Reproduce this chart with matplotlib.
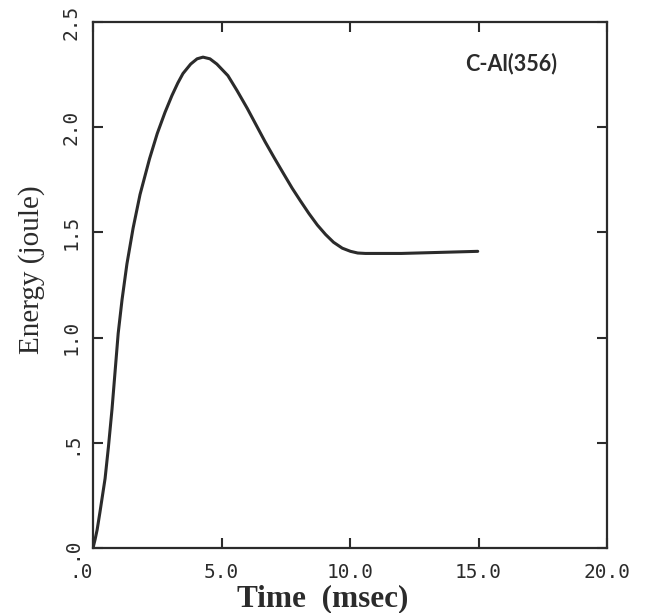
import numpy as np
from matplotlib import pyplot as plt

# energy vs time
time_ms = [0.0, 0.08, 0.16, 0.27, 0.47, 0.60, 0.74, 0.86, 0.98, 1.13, 1.32, 1.56,
           1.83, 2.20, 2.50, 2.80, 3.07, 3.30, 3.50, 3.80, 4.05, 4.28, 4.55, 4.82,
           5.25, 5.60, 6.00, 6.35, 6.70, 7.05, 7.41, 7.75, 8.07, 8.40, 8.73, 9.05,
           9.36, 9.70, 10.02, 10.30, 10.60, 11.0, 12.0, 13.5, 14.97]
energy_j = [0.0, 0.04, 0.086, 0.17, 0.33, 0.48, 0.66, 0.84, 1.02, 1.18, 1.35, 1.52,
            1.68, 1.85, 1.97, 2.07, 2.15, 2.21, 2.255, 2.30, 2.325, 2.333, 2.325, 2.30,
            2.245, 2.175, 2.09, 2.01, 1.93, 1.855, 1.78, 1.71, 1.65, 1.59, 1.535, 1.49,
            1.453, 1.425, 1.41, 1.402, 1.40, 1.40, 1.40, 1.405, 1.41]

xticks = [0.0, 5.0, 10.0, 15.0, 20.0]
xtick_labels = [".0", "5.0", "10.0", "15.0", "20.0"]
yticks = [0.0, 0.5, 1.0, 1.5, 2.0, 2.5]
ytick_labels = [".0", ".5", "1.0", "1.5", "2.0", "2.5"]

ink = "#2b2b2b"

fig = plt.figure(figsize=(6.46, 6.13), dpi=100)
ax = fig.add_axes([93 / 646, 1 - 548 / 613, 514 / 646, 526 / 613])

ax.plot(time_ms, energy_j, color=ink, lw=2.2, solid_capstyle="round",
        solid_joinstyle="round")

ax.set_xlim(0, 20)
ax.set_ylim(0, 2.5)
ax.set_xticks(xticks)
ax.set_yticks(yticks)
ax.set_xticklabels(xtick_labels, family="DejaVu Sans Mono", fontsize=14, color=ink)
ax.set_yticklabels(ytick_labels, family="DejaVu Sans Mono", fontsize=14, color=ink,
                   rotation=90, va="center")
ax.get_xticklabels()[0].set_ha("right")

ax.tick_params(direction="in", length=7, width=1.5, color=ink, top=True, right=True)
ax.tick_params(axis="x", pad=11)
ax.tick_params(axis="y", pad=9)
for s in ax.spines.values():
    s.set_linewidth(1.6)
    s.set_color(ink)

ax.set_xlabel("Time  (msec)", family="Liberation Serif", fontweight="bold",
              fontsize=22.5, color=ink, va="top")
ax.xaxis.set_label_coords(0.447, -0.068)
ax.set_ylabel("Energy (joule)", family="Liberation Serif", fontsize=21, color=ink)
ax.yaxis.set_label_coords(-0.093, 0.53)

ax.text(16.26, 2.305, "C-Al(356)", family="Lato", fontweight="bold",
        fontsize=15.5, color=ink, ha="center", va="center")

fig.savefig("out.png", dpi=100)
